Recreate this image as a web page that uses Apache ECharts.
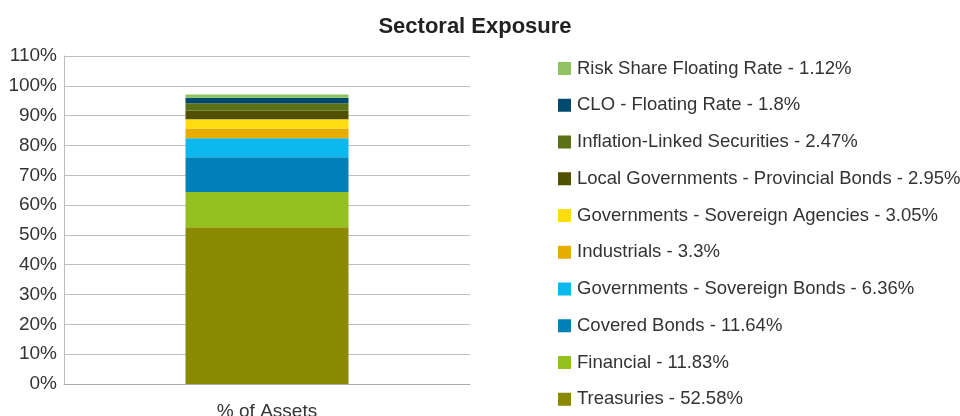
<!DOCTYPE html>
<html>
<head>
<meta charset="utf-8">
<script src="https://cdn.jsdelivr.net/npm/echarts@6/dist/echarts.min.js"></script>
<style>
html,body{margin:0;padding:0;background:#fff;}
#chart{width:960px;height:416px;}
</style>
</head>
<body>
<div id="chart"></div>
<script>
const categories = ['% of Assets'];
const seriesNames = [
  'Treasuries', 'Financial', 'Covered Bonds', 'Governments - Sovereign Bonds',
  'Industrials', 'Governments - Sovereign Agencies', 'Local Governments - Provincial Bonds',
  'Inflation-Linked Securities', 'CLO - Floating Rate', 'Risk Share Floating Rate'
];
const seriesValues = [52.58, 11.83, 11.64, 6.36, 3.3, 3.05, 2.95, 2.47, 1.8, 1.12];
const seriesColors = ['#8a8a00', '#95c11f', '#0080b9', '#0db8ef', '#e8ac00', '#ffdb12', '#4f5000', '#5a7115', '#004a70', '#8fc35f'];
const yTicks = [0, 10, 20, 30, 40, 50, 60, 70, 80, 90, 100, 110];

const FONT = 'Liberation Sans, Arial, sans-serif';
const chart = echarts.init(document.getElementById('chart'), null, {renderer: 'canvas'});

const series = seriesNames.map((n, i) => ({
  name: n,
  type: 'bar',
  stack: 'total',
  barWidth: 163,
  data: [seriesValues[i]],
  itemStyle: {color: seriesColors[i]},
  emphasis: {disabled: true}
}));

chart.setOption({
  animation: false,
  title: {
    text: 'Sectoral Exposure',
    left: 475, top: 16, textAlign: 'center', padding: 0,
    textStyle: {fontFamily: FONT, fontSize: 22, fontWeight: 'bold', color: '#222'}
  },
  grid: {left: 64, right: 490, top: 56, bottom: 32, containLabel: false, outerBoundsMode: 'none'},
  legend: {
    orient: 'vertical',
    left: 558, top: 59, height: 380,
    padding: 0,
    itemWidth: 13, itemHeight: 13, itemGap: 17.75,
    icon: 'rect',
    data: seriesNames.slice().reverse(),
    formatter: function (name) {
      const i = seriesNames.indexOf(name);
      return name + ' - ' + seriesValues[i] + '%';
    },
    textStyle: {fontFamily: FONT, fontSize: 18.5, color: '#333', padding: [0, 0, 0, 1]},
    selectedMode: false
  },
  xAxis: {
    type: 'category',
    data: categories,
    axisLine: {lineStyle: {color: '#aaaaaa', width: 1}},
    axisTick: {show: false},
    axisLabel: {fontFamily: FONT, fontSize: 19, color: '#333', margin: 18}
  },
  yAxis: {
    type: 'value',
    min: yTicks[0], max: yTicks[yTicks.length - 1], interval: 10,
    axisLine: {show: true, lineStyle: {color: '#bbbbbb'}},
    axisTick: {show: false},
    splitLine: {lineStyle: {color: '#c0c0c0', width: 1}},
    axisLabel: {fontFamily: FONT, fontSize: 19, color: '#333', margin: 7, formatter: '{value}%'}
  },
  series: series
});
</script>
</body>
</html>
